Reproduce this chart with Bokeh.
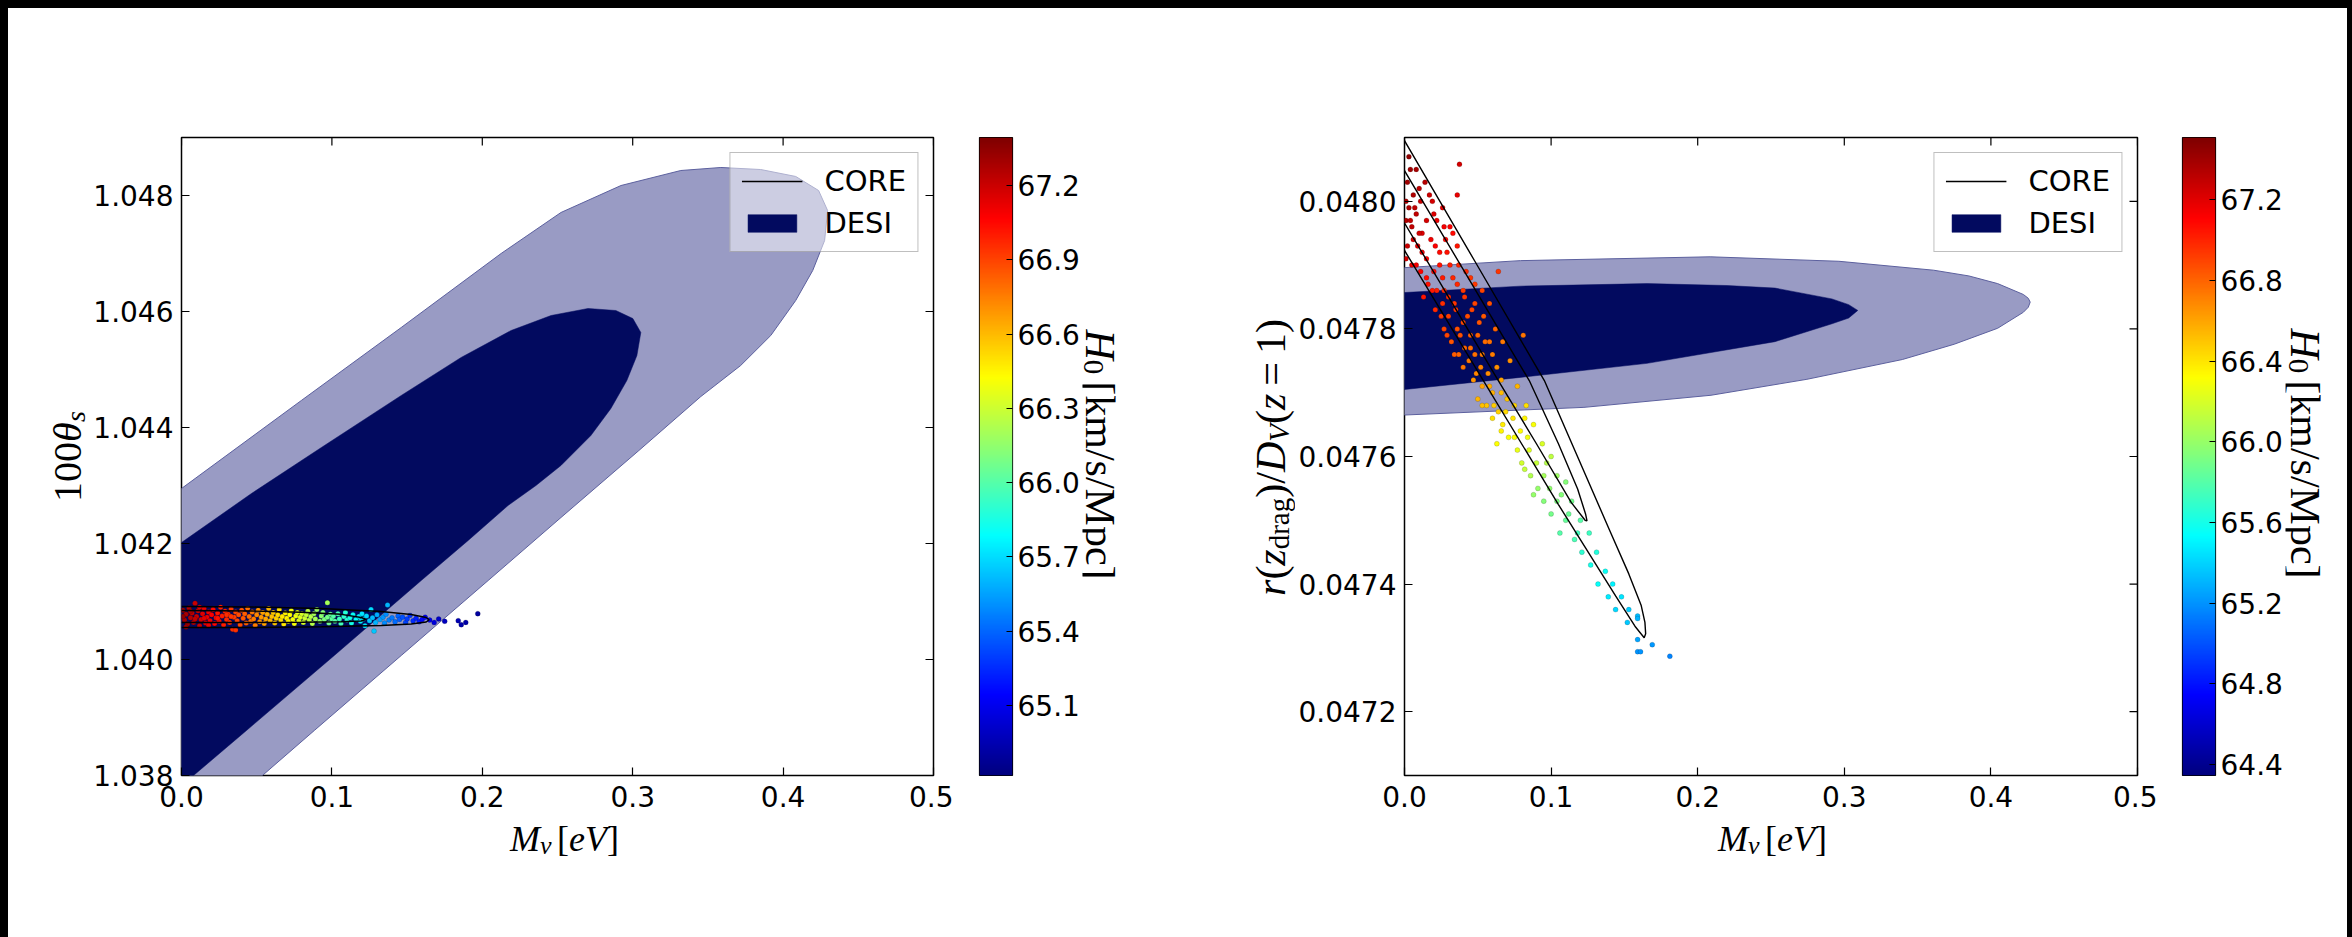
import math
import numpy as np
from bokeh.plotting import figure
from bokeh.models import (Range1d, FixedTicker, Legend, LegendItem, Label,
                          LinearColorMapper, NumeralTickFormatter)
from bokeh.layouts import row, column
from bokeh.embed import file_html
from bokeh.resources import INLINE

# ---------------- data ----------------
X_TICKS = [0.0, 0.1, 0.2, 0.3, 0.4, 0.5]
L_Y_TICKS = [1.038, 1.040, 1.042, 1.044, 1.046, 1.048]
R_Y_TICKS = [0.0472, 0.0474, 0.0476, 0.0478, 0.0480]
CB1_TICKS = [65.1, 65.4, 65.7, 66.0, 66.3, 66.6, 66.9, 67.2]
CB2_TICKS = [64.4, 64.8, 65.2, 65.6, 66.0, 66.4, 66.8, 67.2]
CB1_RANGE = (64.817, 67.394)
CB2_RANGE = (64.345, 67.51)
X_RANGE = (0.0, 0.5)
L_Y_RANGE = (1.038, 1.049)
R_Y_RANGE = (0.0471, 0.0481)

# DESI contours (left panel: M_nu vs 100 theta_s)
L_DESI95 = [(-0.02, 1.04257), (0.0, 1.042948), (0.0797, 1.044466), (0.1461, 1.045724), (0.2125, 1.047000),
            (0.2523, 1.047707), (0.2922, 1.048172), (0.3320, 1.048431), (0.3586, 1.048483), (0.3851, 1.048448),
            (0.4084, 1.048328), (0.4236, 1.048086), (0.4296, 1.047741), (0.4276, 1.047224), (0.4197, 1.046707),
            (0.4084, 1.046190), (0.3918, 1.045586), (0.3718, 1.045069), (0.3453, 1.044534), (0.3041, 1.043603),
            (0.2523, 1.042448), (0.2039, 1.041362), (0.1461, 1.040069), (0.0883, 1.038776), (0.0538, 1.038000),
            (0.0332, 1.037534), (-0.02, 1.0365)]
L_DESI68 = [(-0.02, 1.041653), (0.0, 1.042017), (0.0465, 1.042862), (0.0930, 1.043655), (0.1461, 1.044552),
            (0.1859, 1.045207), (0.2191, 1.045672), (0.2457, 1.045931), (0.2703, 1.046052), (0.2888, 1.046017),
            (0.3001, 1.045879), (0.3054, 1.045638), (0.3028, 1.045241), (0.2961, 1.044810), (0.2855, 1.044328),
            (0.2722, 1.043862), (0.2523, 1.043345), (0.2357, 1.043000), (0.2171, 1.042655), (0.1906, 1.042052),
            (0.1594, 1.041362), (0.1016, 1.040069), (0.0432, 1.038776), (0.0080, 1.038000), (-0.0033, 1.037741),
            (-0.02, 1.0374)]
# CORE contours (left)
L_CORE95 = [(0.0, 1.040914), (0.0465, 1.040905), (0.0930, 1.040879), (0.1328, 1.040828), (0.1527, 1.040776),
            (0.1627, 1.040724), (0.1647, 1.040685), (0.1627, 1.040647), (0.1527, 1.040612), (0.1328, 1.040586),
            (0.0930, 1.040564), (0.0465, 1.040552), (0.0, 1.040552)]
L_CORE68 = [(0.0, 1.040845), (0.0465, 1.040836), (0.0797, 1.040814), (0.1062, 1.040779), (0.1195, 1.040724),
            (0.1228, 1.040690), (0.1195, 1.040664), (0.1062, 1.040650), (0.0797, 1.040641), (0.0465, 1.040638),
            (0.0, 1.040638)]

# DESI contours (right panel: M_nu vs r(z_drag)/D_V(z=1))
R_DESI95 = [(-0.01, 0.047895), (0.0, 0.047896), (0.079, 0.047907), (0.2085, 0.047913), (0.2963, 0.047906),
            (0.361, 0.047892), (0.385, 0.047883), (0.4046, 0.047871), (0.4221, 0.047854), (0.4255, 0.047848),
            (0.4268, 0.047842), (0.4255, 0.047834), (0.4221, 0.047826), (0.4046, 0.047801), (0.375, 0.047776),
            (0.3396, 0.047752), (0.2745, 0.047721), (0.2091, 0.047696), (0.1224, 0.047677), (0.0, 0.047665),
            (-0.01, 0.047664)]
R_DESI68 = [(-0.01, 0.047856), (0.0, 0.047857), (0.079, 0.047867), (0.1655, 0.047871), (0.22, 0.047868),
            (0.2527, 0.047864), (0.2916, 0.047847), (0.3030, 0.047838), (0.3092, 0.047829), (0.3030, 0.047817),
            (0.2916, 0.047808), (0.2527, 0.047780), (0.1655, 0.047746), (0.079, 0.047724), (0.0, 0.047705),
            (-0.01, 0.047704)]
R_CORE95 = [(0.0, 0.048095), (0.048, 0.047906), (0.0954, 0.047719), (0.1180, 0.047600), (0.1396, 0.047486),
            (0.1530, 0.047416), (0.1614, 0.047367), (0.1640, 0.047340), (0.1645, 0.047322), (0.1635, 0.047316),
            (0.1572, 0.047334), (0.1441, 0.047381), (0.1049, 0.047525), (0.0538, 0.047719), (0.0, 0.047923)]
R_CORE68 = [(0.0, 0.048048), (0.0851, 0.047719), (0.1050, 0.047620), (0.1181, 0.047549), (0.1235, 0.047510),
            (0.1245, 0.047499), (0.1232, 0.047500), (0.1137, 0.047528), (0.0900, 0.047620), (0.0640, 0.047719),
            (0.0, 0.047966)]

# samples: (M_nu, 100theta_s, H0)
LEFT_PTS = [
    (0.001, 1.04085, 67.32), (0.002, 1.04068, 67.30), (0.003, 1.04078, 67.28), (0.004, 1.04061, 67.30),
    (0.005, 1.04089, 67.25), (0.006, 1.04072, 67.26), (0.007, 1.04080, 67.22), (0.008, 1.04064, 67.24),
    (0.009, 1.04097, 67.20), (0.010, 1.04074, 67.20), (0.011, 1.04084, 67.18), (0.012, 1.04058, 67.20),
    (0.013, 1.04069, 67.17), (0.014, 1.04079, 67.15), (0.015, 1.04088, 67.12), (0.016, 1.04063, 67.14),
    (0.017, 1.04073, 67.12), (0.018, 1.04082, 67.10), (0.019, 1.04067, 67.10), (0.020, 1.04077, 67.08),
    (0.001, 1.04074, 67.35), (0.003, 1.04056, 67.30), (0.006, 1.04083, 67.28), (0.009, 1.04070, 67.22),
    (0.012, 1.04090, 67.16), (0.015, 1.04071, 67.14), (0.018, 1.04059, 67.12),
    (0.021, 1.04086, 67.05), (0.022, 1.04062, 67.06), (0.023, 1.04072, 67.05), (0.024, 1.04080, 67.02),
    (0.025, 1.04066, 67.03), (0.026, 1.04090, 67.00), (0.027, 1.04075, 67.00), (0.028, 1.04060, 67.00),
    (0.029, 1.04083, 66.98), (0.030, 1.04069, 66.97), (0.031, 1.04078, 66.96), (0.032, 1.04064, 66.95),
    (0.033, 1.04087, 66.93), (0.034, 1.04052, 66.95), (0.035, 1.04073, 66.92), (0.036, 1.04082, 66.90),
    (0.037, 1.04067, 66.90), (0.038, 1.04077, 66.88), (0.039, 1.04060, 66.88), (0.040, 1.04085, 66.86),
    (0.024, 1.04071, 67.03), (0.030, 1.04077, 66.96), (0.036, 1.04051, 66.95), (0.033, 1.04074, 66.93),
    (0.041, 1.04071, 66.85), (0.042, 1.04079, 66.84), (0.043, 1.04063, 66.83), (0.044, 1.04088, 66.80),
    (0.045, 1.04074, 66.80), (0.046, 1.04066, 66.78), (0.047, 1.04082, 66.76), (0.048, 1.04070, 66.75),
    (0.049, 1.04059, 66.75), (0.050, 1.04077, 66.72), (0.051, 1.04085, 66.70), (0.052, 1.04065, 66.70),
    (0.053, 1.04073, 66.68), (0.054, 1.04081, 66.66), (0.055, 1.04062, 66.66), (0.056, 1.04070, 66.64),
    (0.057, 1.04078, 66.62), (0.058, 1.04088, 66.60), (0.059, 1.04067, 66.60), (0.060, 1.04074, 66.58),
    (0.061, 1.04081, 66.56), (0.062, 1.04063, 66.56), (0.063, 1.04071, 66.54), (0.064, 1.04077, 66.52),
    (0.065, 1.04086, 66.50), (0.066, 1.04068, 66.50), (0.067, 1.04074, 66.48), (0.068, 1.04061, 66.48),
    (0.069, 1.04080, 66.46), (0.070, 1.04071, 66.45), (0.071, 1.04066, 66.44), (0.072, 1.04077, 66.42),
    (0.073, 1.04084, 66.40), (0.074, 1.04069, 66.40), (0.075, 1.04062, 66.40), (0.076, 1.04075, 66.38),
    (0.077, 1.04081, 66.36), (0.078, 1.04067, 66.35), (0.079, 1.04073, 66.34), (0.080, 1.04079, 66.32),
    (0.081, 1.04064, 66.32), (0.082, 1.04071, 66.30), (0.083, 1.04077, 66.28), (0.084, 1.04083, 66.25),
    (0.085, 1.04068, 66.26), (0.086, 1.04074, 66.24), (0.087, 1.04062, 66.24), (0.088, 1.04079, 66.20),
    (0.089, 1.04070, 66.20), (0.090, 1.04086, 66.18), (0.092, 1.04066, 66.15), (0.093, 1.04075, 66.14),
    (0.094, 1.04081, 66.12), (0.095, 1.04069, 66.10), (0.097, 1.04098, 66.20), (0.097, 1.04073, 66.08),
    (0.098, 1.04063, 66.06), (0.099, 1.04078, 66.04), (0.100, 1.04070, 66.03),
    (0.101, 1.04075, 66.00), (0.102, 1.04066, 66.00), (0.104, 1.04079, 65.96), (0.105, 1.04070, 65.95),
    (0.106, 1.04062, 65.95), (0.108, 1.04074, 65.90), (0.109, 1.04081, 65.88), (0.110, 1.04068, 65.88),
    (0.112, 1.04072, 65.84), (0.113, 1.04063, 65.84), (0.114, 1.04077, 65.80), (0.116, 1.04069, 65.78),
    (0.118, 1.04074, 65.75), (0.119, 1.04066, 65.75), (0.120, 1.04079, 65.72),
    (0.121, 1.04070, 65.70), (0.122, 1.04058, 65.72), (0.123, 1.04075, 65.68), (0.125, 1.04067, 65.65),
    (0.126, 1.04086, 65.70), (0.127, 1.04072, 65.62), (0.129, 1.04064, 65.60), (0.130, 1.04077, 65.58),
    (0.132, 1.04069, 65.55), (0.134, 1.04073, 65.52), (0.135, 1.04063, 65.50), (0.136, 1.04078, 65.50),
    (0.138, 1.04068, 65.47), (0.140, 1.04072, 65.45), (0.137, 1.04094, 65.60), (0.128, 1.04049, 65.65),
    (0.142, 1.04065, 65.42), (0.144, 1.04075, 65.40), (0.145, 1.04069, 65.38), (0.147, 1.04073, 65.35),
    (0.149, 1.04064, 65.32), (0.150, 1.04070, 65.30), (0.152, 1.04076, 65.28), (0.154, 1.04067, 65.25),
    (0.156, 1.04071, 65.22), (0.158, 1.04065, 65.20), (0.160, 1.04069, 65.15), (0.162, 1.04073, 65.12),
    (0.165, 1.04068, 65.08), (0.168, 1.04064, 65.05), (0.171, 1.04070, 65.00), (0.175, 1.04066, 64.98),
    (0.184, 1.04067, 64.95), (0.186, 1.04060, 64.93), (0.189, 1.04064, 64.92), (0.197, 1.04079, 64.90),
]

# samples: (M_nu, r(z_drag)/D_V(z=1), H0)
RIGHT_PTS = [
    (0.003, 0.04807, 67.45), (0.008, 0.04805, 67.38), (0.002, 0.04803, 67.40), (0.014, 0.04803, 67.33),
    (0.006, 0.04801, 67.35), (0.0375, 0.048058, 67.25), (0.036, 0.04801, 67.18), (0.011, 0.04800, 67.28),
    (0.019, 0.04800, 67.25), (0.003, 0.04799, 67.36), (0.026, 0.04799, 67.20), (0.008, 0.04798, 67.30),
    (0.015, 0.04797, 67.24), (0.001, 0.04797, 67.34), (0.022, 0.04797, 67.18), (0.031, 0.04796, 67.12),
    (0.005, 0.04796, 67.30), (0.012, 0.04795, 67.22), (0.018, 0.04794, 67.16), (0.028, 0.04794, 67.10),
    (0.002, 0.04793, 67.28), (0.009, 0.04793, 67.20), (0.036, 0.04793, 67.05), (0.024, 0.04792, 67.08),
    (0.015, 0.04791, 67.12),
    (0.004, 0.04805, 67.40), (0.010, 0.04802, 67.32), (0.017, 0.04801, 67.27), (0.001, 0.04800, 67.35),
    (0.007, 0.04799, 67.31), (0.020, 0.04798, 67.22), (0.004, 0.04797, 67.30), (0.027, 0.04796, 67.15),
    (0.010, 0.04795, 67.24), (0.033, 0.04795, 67.08), (0.006, 0.04794, 67.25), (0.021, 0.04793, 67.12),
    (0.012, 0.04792, 67.16), (0.029, 0.04792, 67.06), (0.001, 0.04791, 67.24),
    (0.005, 0.04790, 67.18), (0.031, 0.04790, 67.02), (0.020, 0.04789, 67.08), (0.011, 0.04789, 67.12),
    (0.042, 0.04789, 66.98), (0.026, 0.04788, 67.03), (0.016, 0.04787, 67.06), (0.036, 0.04787, 66.98),
    (0.048, 0.04787, 66.93), (0.022, 0.04786, 67.02), (0.030, 0.04785, 66.98), (0.013, 0.04785, 67.05),
    (0.041, 0.04785, 66.95), (0.053, 0.04786, 66.90), (0.026, 0.04784, 66.97),
    (0.008, 0.04790, 67.14), (0.024, 0.04790, 67.06), (0.037, 0.04790, 67.00), (0.015, 0.04788, 67.08),
    (0.033, 0.04788, 67.00), (0.045, 0.04788, 66.95), (0.019, 0.04786, 67.03), (0.027, 0.04786, 67.00),
    (0.040, 0.04786, 66.94), (0.034, 0.04784, 66.95), (0.048, 0.04784, 66.90),
    (0.035, 0.04783, 66.93), (0.046, 0.04783, 66.90), (0.021, 0.04783, 66.98), (0.058, 0.04784, 66.86),
    (0.030, 0.04782, 66.92), (0.040, 0.04781, 66.88), (0.051, 0.04781, 66.85), (0.027, 0.04780, 66.90),
    (0.036, 0.04780, 66.86), (0.062, 0.04780, 66.80), (0.045, 0.04779, 66.82), (0.032, 0.04778, 66.85),
    (0.055, 0.04778, 66.78), (0.041, 0.04777, 66.80), (0.067, 0.04778, 66.74), (0.048, 0.04776, 66.76),
    (0.037, 0.04776, 66.80), (0.060, 0.04776, 66.72), (0.044, 0.04775, 66.74), (0.052, 0.04774, 66.70),
    (0.072, 0.04775, 66.66), (0.040, 0.04774, 66.75), (0.057, 0.04773, 66.67), (0.047, 0.04772, 66.65),
    (0.066, 0.04772, 66.60),
    (0.025, 0.04782, 66.94), (0.043, 0.04782, 66.87), (0.054, 0.04782, 66.84), (0.038, 0.04779, 66.86),
    (0.050, 0.04779, 66.80), (0.029, 0.04779, 66.90), (0.058, 0.04778, 66.76), (0.045, 0.04777, 66.78),
    (0.034, 0.04776, 66.83), (0.053, 0.04776, 66.73), (0.063, 0.04774, 66.66), (0.049, 0.04773, 66.70),
    (0.081, 0.04779, 66.75), (0.064, 0.04789, 66.95),
    (0.053, 0.04771, 66.60), (0.077, 0.04771, 66.55), (0.060, 0.04770, 66.56), (0.050, 0.04769, 66.55),
    (0.070, 0.04769, 66.50), (0.056, 0.04768, 66.50), (0.064, 0.04767, 66.46), (0.083, 0.04768, 66.42),
    (0.074, 0.04766, 66.40), (0.060, 0.04766, 66.42), (0.067, 0.04765, 66.38), (0.079, 0.04764, 66.33),
    (0.088, 0.04765, 66.30), (0.071, 0.04763, 66.30), (0.063, 0.04762, 66.32),
    (0.058, 0.04771, 66.58), (0.066, 0.04770, 66.53), (0.053, 0.04768, 66.52), (0.075, 0.04768, 66.45),
    (0.061, 0.04768, 66.48), (0.069, 0.04767, 66.44), (0.082, 0.04766, 66.36), (0.066, 0.04764, 66.36),
    (0.075, 0.04763, 66.30), (0.084, 0.04763, 66.28),
    (0.077, 0.04761, 66.25), (0.085, 0.04761, 66.22), (0.094, 0.04762, 66.20), (0.080, 0.04759, 66.18),
    (0.090, 0.04759, 66.15), (0.100, 0.04760, 66.12), (0.086, 0.04757, 66.08), (0.095, 0.04757, 66.05),
    (0.104, 0.04757, 66.02), (0.091, 0.04755, 66.00), (0.099, 0.04755, 65.98), (0.110, 0.04756, 65.95),
    (0.082, 0.04758, 66.15), (0.097, 0.04759, 66.10), (0.088, 0.04754, 66.00), (0.107, 0.04754, 65.94),
    (0.095, 0.04753, 65.95), (0.104, 0.04753, 65.92), (0.114, 0.04753, 65.88), (0.100, 0.04751, 65.90),
    (0.110, 0.04750, 65.85), (0.120, 0.04750, 65.80), (0.106, 0.04748, 65.80), (0.116, 0.04747, 65.76),
    (0.126, 0.04748, 65.72), (0.121, 0.04745, 65.68), (0.131, 0.04745, 65.64), (0.112, 0.04751, 65.86),
    (0.118, 0.04748, 65.74),
    (0.127, 0.04743, 65.60), (0.137, 0.04742, 65.56), (0.132, 0.04740, 65.55), (0.142, 0.04740, 65.50),
    (0.139, 0.04738, 65.48), (0.148, 0.04738, 65.45), (0.144, 0.04736, 65.42), (0.153, 0.04736, 65.38),
    (0.152, 0.04734, 65.36), (0.159, 0.04735, 65.33),
    (0.159, 0.047346, 65.30), (0.159, 0.047313, 65.25), (0.169, 0.047305, 65.22), (0.159, 0.047294, 65.20),
    (0.161, 0.047294, 65.20), (0.181, 0.047287, 65.15),
]

# ---------------- style helpers ----------------
def jet_palette(n=256):
    cols = []
    for t in np.linspace(0, 1, n):
        r = min(max(1.5 - abs(4 * t - 3), 0), 1)
        g = min(max(1.5 - abs(4 * t - 2), 0), 1)
        b = min(max(1.5 - abs(4 * t - 1), 0), 1)
        cols.append("#%02x%02x%02x" % (int(r * 255), int(g * 255), int(b * 255)))
    return cols

JET = jet_palette()
TICK_FONT = "DejaVu Sans"
MATH_FONT = "Liberation Serif"
TOP = 129
FRAME_H = 638
BOTTOM = 44
ROW1_H = TOP + FRAME_H + BOTTOM     # 811
ROW2_H = 929 - ROW1_H               # 118
TICK_LEN = 8

RM = {'1': 0.5, '0': 0.5, '(': 0.333, ')': 0.333, '[': 0.333, ']': 0.333, '/': 0.278, '=': 0.564,
      ' ': 0.25, 'k': 0.5, 'm': 0.778, 's': 0.389, 'M': 0.889, 'p': 0.5, 'c': 0.444, 'd': 0.5,
      'r': 0.333, 'a': 0.444, 'g': 0.5}
IT = {'M': 0.833, 'ν': 0.46, 'e': 0.444, 'V': 0.611, 'r': 0.389, 'z': 0.389, 'D': 0.722,
      'H': 0.722, 's': 0.389, 'θ': 0.5}


def seg_w(text, size, italic):
    tbl = IT if italic else RM
    return sum(tbl.get(c, 0.5) for c in text) * size


def rich_label(p, cx, cy, angle, segs):
    """Composite math-like label; (cx, cy) is the baseline centre in the canvas' pixel coords.
    segs: (text, size, italic, shift, gap)"""
    total = sum(g + seg_w(t, s, it) for t, s, it, sh, g in segs)
    ca, sa = math.cos(angle), math.sin(angle)
    x0 = cx - total / 2 * ca
    y0 = cy - total / 2 * sa
    adv = 0.0
    for t, s, it, sh, g in segs:
        adv += g
        lx = x0 + adv * ca - sh * sa
        ly = y0 + adv * sa + sh * ca
        p.add_layout(Label(x=lx, y=ly, text=t, angle=angle,
                           text_font=MATH_FONT, text_font_size="%dpx" % s,
                           text_font_style="italic" if it else "normal",
                           text_baseline="alphabetic", text_align="left", text_color="black"))
        adv += seg_w(t, s, it)


def text_canvas(width, height, top, bottom):
    """A blank canvas whose frame is measured in pixels (x from its left, y up from its frame bottom)."""
    p = figure(width=width, height=height, x_range=Range1d(0, width),
               y_range=Range1d(0, height - top - bottom),
               output_backend="svg", toolbar_location=None, title=None,
               x_axis_location=None, y_axis_location=None,
               min_border_left=0, min_border_right=0, min_border_top=top, min_border_bottom=bottom)
    p.grid.visible = False
    p.outline_line_color = None
    p.background_fill_color = "white"
    p.border_fill_color = "white"
    return p


def style_axis(ax, ticks, fmt, standoff):
    ax.ticker = FixedTicker(ticks=ticks)
    ax.formatter = NumeralTickFormatter(format=fmt)
    ax.major_tick_in = TICK_LEN
    ax.major_tick_out = 0
    ax.minor_tick_in = 0
    ax.minor_tick_out = 0
    ax.major_tick_line_color = "black"
    ax.major_tick_line_width = 1.2
    ax.axis_line_color = None
    ax.major_label_text_font = TICK_FONT
    ax.major_label_text_font_size = "28px"
    ax.major_label_text_color = "black"
    ax.major_label_standoff = standoff


def build(width, mbl, frame_w, yr, yticks, yfmt, desi95, desi68, core95, core68, pts, cb_range):
    mbr = width - mbl - frame_w
    p = figure(width=width, height=ROW1_H, x_range=Range1d(*X_RANGE), y_range=Range1d(*yr),
               output_backend="svg", toolbar_location=None, title=None,
               min_border_left=mbl, min_border_right=mbr, min_border_top=TOP, min_border_bottom=BOTTOM)
    p.grid.visible = False
    p.outline_line_color = "black"
    p.outline_line_width = 1.5
    p.background_fill_color = "white"
    p.border_fill_color = "white"
    style_axis(p.xaxis[0], X_TICKS, "0.0", 10)
    style_axis(p.yaxis[0], yticks, yfmt, 8)

    p.patch([a for a, b in desi95], [b for a, b in desi95], fill_color="#999bc4",
            line_color="#5c609e", line_width=1)
    inner = p.patch([a for a, b in desi68], [b for a, b in desi68], fill_color="#020a5f",
                    line_color="#020a5f", line_width=0.5)
    mapper = LinearColorMapper(palette=JET, low=cb_range[0], high=cb_range[1])
    src = dict(x=[a for a, b, c in pts], y=[b for a, b, c in pts], h=[c for a, b, c in pts])
    p.scatter("x", "y", source=src, size=5, marker="circle",
              fill_color={"field": "h", "transform": mapper},
              line_color="black", line_alpha=0.3, line_width=0.5)
    core = p.multi_line([[a for a, b in core95], [a for a, b in core68]],
                        [[b for a, b in core95], [b for a, b in core68]],
                        line_color="black", line_width=1.4)

    # inward ticks mirrored on the top and right spines
    dy = TICK_LEN * (yr[1] - yr[0]) / FRAME_H
    dx = TICK_LEN * (X_RANGE[1] - X_RANGE[0]) / frame_w
    p.segment(x0=X_TICKS, y0=[yr[1]] * len(X_TICKS), x1=X_TICKS, y1=[yr[1] - dy] * len(X_TICKS),
              line_color="black", line_width=1.2)
    p.segment(x0=[X_RANGE[1]] * len(yticks), y0=yticks, x1=[X_RANGE[1] - dx] * len(yticks), y1=yticks,
              line_color="black", line_width=1.2)

    leg = Legend(items=[LegendItem(label="CORE", renderers=[core]),
                        LegendItem(label="DESI", renderers=[inner])],
                 location="top_right", label_text_font=TICK_FONT, label_text_font_size="29px",
                 label_text_color="black",
                 glyph_width=61, glyph_height=22, label_standoff=22, padding=11, spacing=8,
                 margin=15, border_line_color="#808080", border_line_width=1.5,
                 background_fill_color="white", background_fill_alpha=0.5)
    p.add_layout(leg)
    return p


def colorbar(width, mbl, cb_range, ticks):
    lo, hi = cb_range
    bar_w = 33
    p = figure(width=width, height=ROW1_H, x_range=Range1d(0, 1), y_range=Range1d(lo, hi),
               output_backend="svg", toolbar_location=None, title=None, x_axis_location=None,
               y_axis_location="right",
               min_border_left=mbl, min_border_right=width - mbl - bar_w,
               min_border_top=TOP, min_border_bottom=BOTTOM)
    p.grid.visible = False
    p.outline_line_color = "black"
    p.outline_line_width = 1.2
    p.border_fill_color = "white"
    mapper = LinearColorMapper(palette=JET, low=lo, high=hi)
    p.image(image=[np.linspace(lo, hi, 512).reshape(-1, 1)], x=0, y=lo, dw=1, dh=hi - lo,
            color_mapper=mapper)
    ax = p.yaxis[0]
    ax.ticker = FixedTicker(ticks=ticks)
    ax.formatter = NumeralTickFormatter(format="0.0")
    ax.major_tick_in = 6
    ax.major_tick_out = 0
    ax.minor_tick_in = 0
    ax.minor_tick_out = 0
    ax.axis_line_color = None
    ax.major_tick_line_color = "black"
    ax.major_label_text_font = TICK_FONT
    ax.major_label_text_font_size = "28px"
    ax.major_label_text_color = "black"
    ax.major_label_standoff = 5
    return p


# ---------------- panels (page x positions in comments; page origin = window corner) ----------------
y1 = text_canvas(82, ROW1_H, TOP, BOTTOM)                      # 8 .. 90
p1 = build(863, 90, 753, L_Y_RANGE, L_Y_TICKS, "0.000", L_DESI95, L_DESI68, L_CORE95, L_CORE68,
           LEFT_PTS, CB1_RANGE)                                # 90 .. 953, frame 180..933
c1 = colorbar(129, 26, CB1_RANGE, CB1_TICKS)                   # 953 .. 1082, bar 979..1012
cl1 = text_canvas(150, ROW1_H, TOP, BOTTOM)                    # 1082 .. 1232
y2 = text_canvas(63, ROW1_H, TOP, BOTTOM)                      # 1232 .. 1295
p2 = build(862, 108, 734, R_Y_RANGE, R_Y_TICKS, "0.0000", R_DESI95, R_DESI68, R_CORE95, R_CORE68,
           RIGHT_PTS, CB2_RANGE)                               # 1295 .. 2157, frame 1403..2137
c2 = colorbar(128, 25, CB2_RANGE, CB2_TICKS)                   # 2157 .. 2285, bar 2182..2215
cl2 = text_canvas(62, ROW1_H, TOP, BOTTOM)                     # 2285 .. 2347
xl = text_canvas(2339, ROW2_H, 0, 0)                           # page y 819 .. 937

# x labels (baseline page y 838 -> canvas y 937-838)
XLAB = [("M", 36, True, 0, 0), ("ν", 26, True, -7, 0), ("[", 36, False, 0, 5),
        ("eV", 36, True, 0, 0), ("]", 36, False, 0, 0)]
rich_label(xl, 564 - 8, 937 - 838, 0, XLAB)
rich_label(xl, 1772 - 8, 937 - 838, 0, XLAB)
# y labels (frame bottom at page y 775)
rich_label(y1, 67 - 8, 775 - 456, math.pi / 2,
           [("100", 40, False, 0, 0), ("θ", 40, True, 0, 0), ("s", 28, True, -8, 0)])
rich_label(y2, 1270 - 1232, 775 - 457, math.pi / 2,
           [("r", 42, True, 0, 0), ("(", 42, False, 0, 0), ("z", 42, True, 0, 0),
            ("drag", 29, False, -8, 0), (")", 42, False, 0, 0), ("/", 42, False, 0, 0),
            ("D", 42, True, 0, 0), ("V", 29, True, -8, 0), ("(", 42, False, 0, 0),
            ("z", 42, True, 0, 0), ("=", 42, False, 0, 8), ("1", 42, False, 0, 8),
            (")", 42, False, 0, 0)])
CBLAB = [("H", 42, True, 0, 0), ("0", 29, False, -6, 0), ("[", 42, False, 0, 7),
         ("km/s/Mpc", 42, False, 0, 0), ("]", 42, False, 0, 0)]
rich_label(cl1, 1099 - 1082, 775 - 454, -math.pi / 2, CBLAB)
rich_label(cl2, 2304 - 2285, 775 - 453, -math.pi / 2, CBLAB)

layout = column(row(y1, p1, c1, cl1, y2, p2, c2, cl2, spacing=0), xl, spacing=0)
html = file_html(layout, INLINE)
css = ("<style>html { background-color: #000000 !important; } "
       "body { background-color: #ffffff !important; margin: 8px 5px 0px 8px !important; }</style>")
html = html.replace("</head>", css + "</head>", 1)
open("out.html", "w").write(html)
